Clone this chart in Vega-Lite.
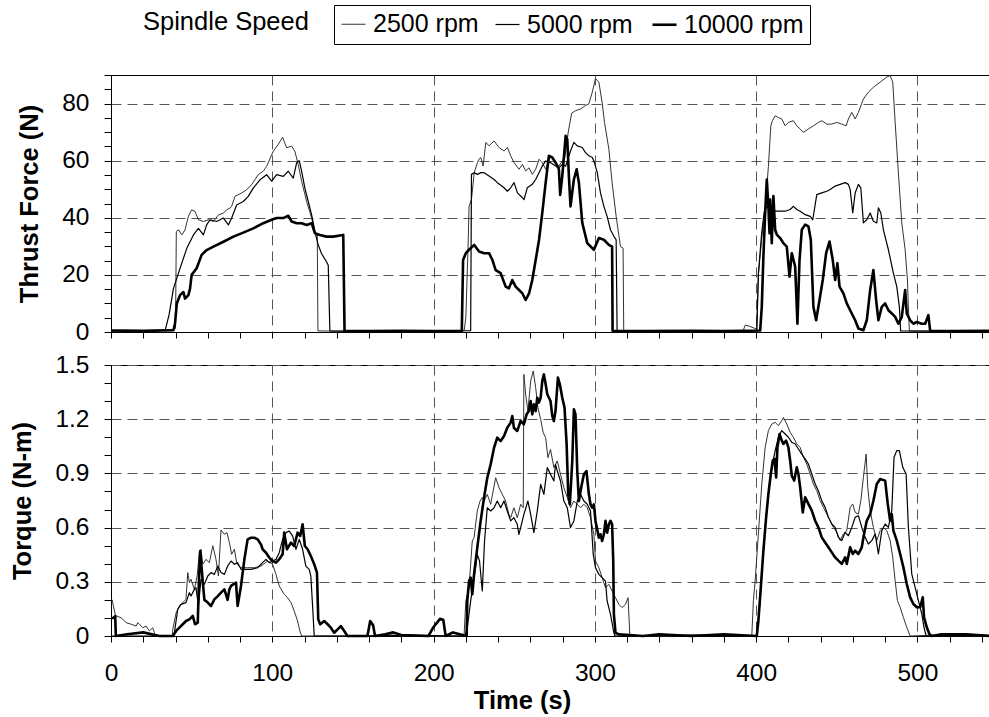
{
"$schema":"https://vega.github.io/schema/vega-lite/v6.json",
"padding":{"left":10,"top":4,"right":0,"bottom":0},
"bounds":"flush",
"spacing":33,
"title":{"text":"Spindle Speed","anchor":"start","frame":"group","dx":32,"dy":35,"fontSize":25.5,"fontWeight":"normal","color":"black","font":"Liberation Sans"},
"config":{
 "font":"Liberation Sans",
 "view":{"stroke":"black","strokeWidth":1},
 "axis":{"domainColor":"black","domainWidth":1,"tickColor":"black","tickWidth":1,"labelColor":"black","labelFontSize":24.5,"labelFont":"Liberation Sans","titleFont":"Liberation Sans","titleFontSize":25.5,"titleFontWeight":"bold","titleColor":"black","gridColor":"#555","gridDash":[10,6],"gridWidth":1,"labelOverlap":false,"labelFlush":false}
},
"datasets":{
"thrust":[
{"t":0,"v":0.5,"s":"2500 rpm"},{"t":10,"v":0.6,"s":"2500 rpm"},{"t":20,"v":0.5,"s":"2500 rpm"},{"t":30,"v":0.7,"s":"2500 rpm"},{"t":38,"v":0.9,"s":"2500 rpm"},{"t":40,"v":1.2,"s":"2500 rpm"},{"t":40.5,"v":35.2,"s":"2500 rpm"},{"t":41.8,"v":35.8,"s":"2500 rpm"},{"t":43.9,"v":34,"s":"2500 rpm"},{"t":45.9,"v":35.8,"s":"2500 rpm"},{"t":48,"v":40.5,"s":"2500 rpm"},{"t":50,"v":42.8,"s":"2500 rpm"},{"t":52.1,"v":42.2,"s":"2500 rpm"},{"t":54.2,"v":39.3,"s":"2500 rpm"},{"t":57.3,"v":38.7,"s":"2500 rpm"},{"t":60.4,"v":39.3,"s":"2500 rpm"},{"t":63.5,"v":38.7,"s":"2500 rpm"},{"t":66.6,"v":41,"s":"2500 rpm"},{"t":69.7,"v":41.6,"s":"2500 rpm"},{"t":71.7,"v":42.8,"s":"2500 rpm"},{"t":73.8,"v":43.4,"s":"2500 rpm"},{"t":74.8,"v":44,"s":"2500 rpm"},{"t":76.9,"v":47.5,"s":"2500 rpm"},{"t":81,"v":48.7,"s":"2500 rpm"},{"t":84.1,"v":49.8,"s":"2500 rpm"},{"t":87.2,"v":51.6,"s":"2500 rpm"},{"t":91.3,"v":55.1,"s":"2500 rpm"},{"t":94.4,"v":56.3,"s":"2500 rpm"},{"t":96.5,"v":58,"s":"2500 rpm"},{"t":100.6,"v":63.3,"s":"2500 rpm"},{"t":103.7,"v":65.7,"s":"2500 rpm"},{"t":106.4,"v":68.2,"s":"2500 rpm"},{"t":108.9,"v":64.5,"s":"2500 rpm"},{"t":112,"v":65.1,"s":"2500 rpm"},{"t":114,"v":63.3,"s":"2500 rpm"},{"t":116.1,"v":58.6,"s":"2500 rpm"},{"t":118.2,"v":52.8,"s":"2500 rpm"},{"t":121.3,"v":45.7,"s":"2500 rpm"},{"t":124.4,"v":39.9,"s":"2500 rpm"},{"t":126.4,"v":35.2,"s":"2500 rpm"},{"t":127.9,"v":34,"s":"2500 rpm"},{"t":128.3,"v":0.4,"s":"2500 rpm"},{"t":140,"v":0.3,"s":"2500 rpm"},{"t":160,"v":0.4,"s":"2500 rpm"},{"t":180,"v":0.3,"s":"2500 rpm"},{"t":200,"v":0.4,"s":"2500 rpm"},{"t":219,"v":0.6,"s":"2500 rpm"},{"t":220,"v":5,"s":"2500 rpm"},{"t":221.4,"v":30,"s":"2500 rpm"},{"t":222,"v":44,"s":"2500 rpm"},{"t":223.5,"v":46.4,"s":"2500 rpm"},{"t":225.2,"v":55.8,"s":"2500 rpm"},{"t":227.2,"v":59.3,"s":"2500 rpm"},{"t":228.2,"v":60.5,"s":"2500 rpm"},{"t":229.3,"v":61.1,"s":"2500 rpm"},{"t":230.7,"v":58.1,"s":"2500 rpm"},{"t":232.4,"v":66.4,"s":"2500 rpm"},{"t":234.4,"v":65.2,"s":"2500 rpm"},{"t":237.5,"v":66.9,"s":"2500 rpm"},{"t":240.6,"v":64.6,"s":"2500 rpm"},{"t":243.7,"v":63.4,"s":"2500 rpm"},{"t":245.8,"v":64.6,"s":"2500 rpm"},{"t":247.8,"v":61.7,"s":"2500 rpm"},{"t":249.9,"v":59.3,"s":"2500 rpm"},{"t":253,"v":57,"s":"2500 rpm"},{"t":255.1,"v":58.7,"s":"2500 rpm"},{"t":257.1,"v":56.4,"s":"2500 rpm"},{"t":259.2,"v":57.5,"s":"2500 rpm"},{"t":261.2,"v":55.2,"s":"2500 rpm"},{"t":263.3,"v":57,"s":"2500 rpm"},{"t":265.4,"v":60.5,"s":"2500 rpm"},{"t":267.4,"v":59.3,"s":"2500 rpm"},{"t":269.5,"v":57,"s":"2500 rpm"},{"t":272.6,"v":61.7,"s":"2500 rpm"},{"t":275.7,"v":59.3,"s":"2500 rpm"},{"t":277.7,"v":58.1,"s":"2500 rpm"},{"t":279.8,"v":59.9,"s":"2500 rpm"},{"t":281.4,"v":61.2,"s":"2500 rpm"},{"t":283.5,"v":70,"s":"2500 rpm"},{"t":285.6,"v":76.6,"s":"2500 rpm"},{"t":288,"v":77.5,"s":"2500 rpm"},{"t":291.1,"v":78.1,"s":"2500 rpm"},{"t":294.2,"v":79.3,"s":"2500 rpm"},{"t":296.3,"v":79.9,"s":"2500 rpm"},{"t":298.4,"v":84,"s":"2500 rpm"},{"t":300.4,"v":88.7,"s":"2500 rpm"},{"t":302.5,"v":87.5,"s":"2500 rpm"},{"t":304.5,"v":80.4,"s":"2500 rpm"},{"t":306,"v":73.4,"s":"2500 rpm"},{"t":308.7,"v":64,"s":"2500 rpm"},{"t":310.7,"v":52.3,"s":"2500 rpm"},{"t":313.2,"v":40.5,"s":"2500 rpm"},{"t":315.9,"v":29.9,"s":"2500 rpm"},{"t":317.5,"v":29.4,"s":"2500 rpm"},{"t":317.9,"v":0.4,"s":"2500 rpm"},{"t":330,"v":0.3,"s":"2500 rpm"},{"t":350,"v":0.4,"s":"2500 rpm"},{"t":370,"v":0.3,"s":"2500 rpm"},{"t":385,"v":0.4,"s":"2500 rpm"},{"t":392,"v":0.5,"s":"2500 rpm"},{"t":393.2,"v":2.4,"s":"2500 rpm"},{"t":396,"v":2,"s":"2500 rpm"},{"t":399.4,"v":1.2,"s":"2500 rpm"},{"t":400.4,"v":1,"s":"2500 rpm"},{"t":401.4,"v":20,"s":"2500 rpm"},{"t":403.5,"v":33,"s":"2500 rpm"},{"t":405.6,"v":43,"s":"2500 rpm"},{"t":407.6,"v":58,"s":"2500 rpm"},{"t":409.1,"v":72.2,"s":"2500 rpm"},{"t":410.1,"v":74,"s":"2500 rpm"},{"t":411.8,"v":75.7,"s":"2500 rpm"},{"t":413.8,"v":75.1,"s":"2500 rpm"},{"t":415.9,"v":74.6,"s":"2500 rpm"},{"t":418,"v":72.2,"s":"2500 rpm"},{"t":420,"v":73.4,"s":"2500 rpm"},{"t":423.1,"v":74,"s":"2500 rpm"},{"t":425.2,"v":72.2,"s":"2500 rpm"},{"t":427.3,"v":71.1,"s":"2500 rpm"},{"t":429.3,"v":69.9,"s":"2500 rpm"},{"t":432.4,"v":71.1,"s":"2500 rpm"},{"t":435.5,"v":72.2,"s":"2500 rpm"},{"t":438.6,"v":73.4,"s":"2500 rpm"},{"t":440.7,"v":74,"s":"2500 rpm"},{"t":443.8,"v":72.8,"s":"2500 rpm"},{"t":446.9,"v":72.8,"s":"2500 rpm"},{"t":450,"v":73.4,"s":"2500 rpm"},{"t":453.1,"v":72.8,"s":"2500 rpm"},{"t":455.8,"v":72.2,"s":"2500 rpm"},{"t":457.2,"v":74.6,"s":"2500 rpm"},{"t":459.3,"v":76.9,"s":"2500 rpm"},{"t":461.4,"v":74.6,"s":"2500 rpm"},{"t":463.4,"v":76.9,"s":"2500 rpm"},{"t":466.5,"v":81.6,"s":"2500 rpm"},{"t":469.6,"v":84,"s":"2500 rpm"},{"t":472.7,"v":85.7,"s":"2500 rpm"},{"t":476.9,"v":87.5,"s":"2500 rpm"},{"t":481,"v":89.3,"s":"2500 rpm"},{"t":483.1,"v":89.8,"s":"2500 rpm"},{"t":484.7,"v":87.5,"s":"2500 rpm"},{"t":486.2,"v":73.4,"s":"2500 rpm"},{"t":488.2,"v":55.8,"s":"2500 rpm"},{"t":490.3,"v":38.2,"s":"2500 rpm"},{"t":492.4,"v":28.8,"s":"2500 rpm"},{"t":493.8,"v":18.2,"s":"2500 rpm"},{"t":494.4,"v":8.8,"s":"2500 rpm"},{"t":495,"v":0.4,"s":"2500 rpm"},{"t":510,"v":0.3,"s":"2500 rpm"},{"t":525,"v":0.4,"s":"2500 rpm"},{"t":545,"v":0.3,"s":"2500 rpm"},
{"t":0,"v":0.4,"s":"5000 rpm"},{"t":15,"v":0.5,"s":"5000 rpm"},{"t":30,"v":0.5,"s":"5000 rpm"},{"t":33.7,"v":0.8,"s":"5000 rpm"},{"t":36,"v":6,"s":"5000 rpm"},{"t":38.7,"v":15.2,"s":"5000 rpm"},{"t":42.8,"v":22.3,"s":"5000 rpm"},{"t":47,"v":29.3,"s":"5000 rpm"},{"t":51.1,"v":34,"s":"5000 rpm"},{"t":54.2,"v":36.3,"s":"5000 rpm"},{"t":57.3,"v":34,"s":"5000 rpm"},{"t":59.3,"v":37.5,"s":"5000 rpm"},{"t":61.4,"v":39.3,"s":"5000 rpm"},{"t":65.5,"v":38.7,"s":"5000 rpm"},{"t":69.7,"v":39.9,"s":"5000 rpm"},{"t":72.8,"v":37.5,"s":"5000 rpm"},{"t":74.8,"v":39.9,"s":"5000 rpm"},{"t":77.9,"v":44.5,"s":"5000 rpm"},{"t":82,"v":45.7,"s":"5000 rpm"},{"t":85.1,"v":47.5,"s":"5000 rpm"},{"t":88.2,"v":50.4,"s":"5000 rpm"},{"t":92.4,"v":53.3,"s":"5000 rpm"},{"t":96.5,"v":55.1,"s":"5000 rpm"},{"t":99.6,"v":52.8,"s":"5000 rpm"},{"t":102.7,"v":55.1,"s":"5000 rpm"},{"t":106.8,"v":54.5,"s":"5000 rpm"},{"t":109.9,"v":56.3,"s":"5000 rpm"},{"t":113,"v":53.9,"s":"5000 rpm"},{"t":115.1,"v":59.2,"s":"5000 rpm"},{"t":116.7,"v":60,"s":"5000 rpm"},{"t":118.2,"v":56.3,"s":"5000 rpm"},{"t":120.2,"v":50.4,"s":"5000 rpm"},{"t":122.3,"v":45.7,"s":"5000 rpm"},{"t":124.4,"v":41,"s":"5000 rpm"},{"t":126.4,"v":35.2,"s":"5000 rpm"},{"t":128.5,"v":30.5,"s":"5000 rpm"},{"t":130.5,"v":27.5,"s":"5000 rpm"},{"t":133.6,"v":24.6,"s":"5000 rpm"},{"t":134.7,"v":23.4,"s":"5000 rpm"},{"t":135.7,"v":0.4,"s":"5000 rpm"},{"t":150,"v":0.3,"s":"5000 rpm"},{"t":170,"v":0.4,"s":"5000 rpm"},{"t":190,"v":0.3,"s":"5000 rpm"},{"t":210,"v":0.4,"s":"5000 rpm"},{"t":223,"v":0.5,"s":"5000 rpm"},{"t":223.5,"v":55.2,"s":"5000 rpm"},{"t":225.2,"v":55.8,"s":"5000 rpm"},{"t":227.2,"v":55.2,"s":"5000 rpm"},{"t":229.3,"v":55.8,"s":"5000 rpm"},{"t":231.3,"v":55.8,"s":"5000 rpm"},{"t":234.4,"v":54.6,"s":"5000 rpm"},{"t":237.5,"v":53.4,"s":"5000 rpm"},{"t":239.6,"v":52.3,"s":"5000 rpm"},{"t":243.7,"v":50.5,"s":"5000 rpm"},{"t":245.8,"v":49.3,"s":"5000 rpm"},{"t":247.8,"v":50.5,"s":"5000 rpm"},{"t":249.9,"v":52.3,"s":"5000 rpm"},{"t":252,"v":48.7,"s":"5000 rpm"},{"t":255.1,"v":47,"s":"5000 rpm"},{"t":256.1,"v":46.4,"s":"5000 rpm"},{"t":258.1,"v":50.5,"s":"5000 rpm"},{"t":261.2,"v":51.7,"s":"5000 rpm"},{"t":263.3,"v":53.4,"s":"5000 rpm"},{"t":265.4,"v":55.8,"s":"5000 rpm"},{"t":267.4,"v":58.1,"s":"5000 rpm"},{"t":269.5,"v":59.9,"s":"5000 rpm"},{"t":272.6,"v":59.3,"s":"5000 rpm"},{"t":275.7,"v":58.1,"s":"5000 rpm"},{"t":277.7,"v":57.5,"s":"5000 rpm"},{"t":279.8,"v":58.7,"s":"5000 rpm"},{"t":281.9,"v":58.1,"s":"5000 rpm"},{"t":284.9,"v":63.4,"s":"5000 rpm"},{"t":287,"v":66.4,"s":"5000 rpm"},{"t":289.1,"v":65.2,"s":"5000 rpm"},{"t":292.2,"v":64.6,"s":"5000 rpm"},{"t":294.2,"v":62.8,"s":"5000 rpm"},{"t":296.3,"v":61.7,"s":"5000 rpm"},{"t":298.4,"v":61.1,"s":"5000 rpm"},{"t":299.4,"v":59.9,"s":"5000 rpm"},{"t":301.5,"v":55.8,"s":"5000 rpm"},{"t":303.5,"v":48.7,"s":"5000 rpm"},{"t":305.6,"v":44,"s":"5000 rpm"},{"t":307.6,"v":40.5,"s":"5000 rpm"},{"t":309.7,"v":35.8,"s":"5000 rpm"},{"t":311.8,"v":33.5,"s":"5000 rpm"},{"t":313.2,"v":32.3,"s":"5000 rpm"},{"t":313.8,"v":0.4,"s":"5000 rpm"},{"t":330,"v":0.3,"s":"5000 rpm"},{"t":350,"v":0.4,"s":"5000 rpm"},{"t":370,"v":0.3,"s":"5000 rpm"},{"t":390,"v":0.4,"s":"5000 rpm"},{"t":399,"v":0.5,"s":"5000 rpm"},{"t":400.4,"v":0.6,"s":"5000 rpm"},{"t":401.4,"v":20.6,"s":"5000 rpm"},{"t":403.5,"v":35,"s":"5000 rpm"},{"t":405,"v":42,"s":"5000 rpm"},{"t":406.6,"v":44,"s":"5000 rpm"},{"t":408.7,"v":42.9,"s":"5000 rpm"},{"t":411.8,"v":42.3,"s":"5000 rpm"},{"t":414.9,"v":42.3,"s":"5000 rpm"},{"t":418,"v":42.3,"s":"5000 rpm"},{"t":421.1,"v":42.9,"s":"5000 rpm"},{"t":423.1,"v":44,"s":"5000 rpm"},{"t":425.2,"v":42.9,"s":"5000 rpm"},{"t":427.3,"v":42.3,"s":"5000 rpm"},{"t":430.4,"v":41.1,"s":"5000 rpm"},{"t":433.5,"v":40.5,"s":"5000 rpm"},{"t":435.1,"v":39.3,"s":"5000 rpm"},{"t":437.6,"v":48.1,"s":"5000 rpm"},{"t":440.7,"v":48.7,"s":"5000 rpm"},{"t":443.8,"v":49.3,"s":"5000 rpm"},{"t":445.9,"v":49.9,"s":"5000 rpm"},{"t":449,"v":51.1,"s":"5000 rpm"},{"t":452.1,"v":51.7,"s":"5000 rpm"},{"t":455.2,"v":52.3,"s":"5000 rpm"},{"t":457.2,"v":51.7,"s":"5000 rpm"},{"t":458.3,"v":49.9,"s":"5000 rpm"},{"t":459.9,"v":41.7,"s":"5000 rpm"},{"t":461.4,"v":48.7,"s":"5000 rpm"},{"t":463.4,"v":51.7,"s":"5000 rpm"},{"t":464.9,"v":50.5,"s":"5000 rpm"},{"t":466.5,"v":38.2,"s":"5000 rpm"},{"t":468.6,"v":39.3,"s":"5000 rpm"},{"t":470.7,"v":41.7,"s":"5000 rpm"},{"t":472.7,"v":38.8,"s":"5000 rpm"},{"t":474.8,"v":38.2,"s":"5000 rpm"},{"t":475.8,"v":43.5,"s":"5000 rpm"},{"t":477.3,"v":41.7,"s":"5000 rpm"},{"t":478.9,"v":35.8,"s":"5000 rpm"},{"t":482,"v":28.8,"s":"5000 rpm"},{"t":485.1,"v":20.6,"s":"5000 rpm"},{"t":487.2,"v":15.9,"s":"5000 rpm"},{"t":488.8,"v":8.8,"s":"5000 rpm"},{"t":489.6,"v":0.4,"s":"5000 rpm"},{"t":510,"v":0.3,"s":"5000 rpm"},{"t":545,"v":0.4,"s":"5000 rpm"},
{"t":0,"v":0.5,"s":"10000 rpm"},{"t":20,"v":0.4,"s":"10000 rpm"},{"t":38.7,"v":0.6,"s":"10000 rpm"},{"t":39.7,"v":3,"s":"10000 rpm"},{"t":40.8,"v":10,"s":"10000 rpm"},{"t":42.8,"v":12.9,"s":"10000 rpm"},{"t":44.9,"v":14,"s":"10000 rpm"},{"t":45.9,"v":11.7,"s":"10000 rpm"},{"t":48,"v":12.9,"s":"10000 rpm"},{"t":49,"v":15.2,"s":"10000 rpm"},{"t":50,"v":20,"s":"10000 rpm"},{"t":53.1,"v":22.3,"s":"10000 rpm"},{"t":56.2,"v":27,"s":"10000 rpm"},{"t":59.3,"v":28.7,"s":"10000 rpm"},{"t":63.5,"v":29.9,"s":"10000 rpm"},{"t":69.7,"v":31.6,"s":"10000 rpm"},{"t":75.9,"v":33.4,"s":"10000 rpm"},{"t":82,"v":34.8,"s":"10000 rpm"},{"t":88.2,"v":36.3,"s":"10000 rpm"},{"t":94.4,"v":38.1,"s":"10000 rpm"},{"t":99.6,"v":39.3,"s":"10000 rpm"},{"t":102.7,"v":39.9,"s":"10000 rpm"},{"t":106.8,"v":39.9,"s":"10000 rpm"},{"t":109.9,"v":40.7,"s":"10000 rpm"},{"t":112,"v":38.7,"s":"10000 rpm"},{"t":115.1,"v":38.1,"s":"10000 rpm"},{"t":118.2,"v":38.1,"s":"10000 rpm"},{"t":121.3,"v":37.5,"s":"10000 rpm"},{"t":124.4,"v":38.1,"s":"10000 rpm"},{"t":126.4,"v":34.6,"s":"10000 rpm"},{"t":129.5,"v":34,"s":"10000 rpm"},{"t":133.6,"v":33.4,"s":"10000 rpm"},{"t":137.8,"v":33.4,"s":"10000 rpm"},{"t":141.9,"v":33.8,"s":"10000 rpm"},{"t":144,"v":34,"s":"10000 rpm"},{"t":144.8,"v":0.4,"s":"10000 rpm"},{"t":160,"v":0.3,"s":"10000 rpm"},{"t":180,"v":0.4,"s":"10000 rpm"},{"t":200,"v":0.3,"s":"10000 rpm"},{"t":217.5,"v":0.4,"s":"10000 rpm"},{"t":218.3,"v":25.2,"s":"10000 rpm"},{"t":220,"v":27.6,"s":"10000 rpm"},{"t":222,"v":28.8,"s":"10000 rpm"},{"t":225.2,"v":30.5,"s":"10000 rpm"},{"t":228.2,"v":28.2,"s":"10000 rpm"},{"t":231.3,"v":27.6,"s":"10000 rpm"},{"t":234.4,"v":27.6,"s":"10000 rpm"},{"t":236.5,"v":25.2,"s":"10000 rpm"},{"t":238.5,"v":21.7,"s":"10000 rpm"},{"t":241.6,"v":20.6,"s":"10000 rpm"},{"t":244.7,"v":15.9,"s":"10000 rpm"},{"t":246.7,"v":15.3,"s":"10000 rpm"},{"t":248.8,"v":18.2,"s":"10000 rpm"},{"t":250.9,"v":15.9,"s":"10000 rpm"},{"t":253,"v":14.7,"s":"10000 rpm"},{"t":255.1,"v":13.5,"s":"10000 rpm"},{"t":257.1,"v":11.2,"s":"10000 rpm"},{"t":259.2,"v":13.5,"s":"10000 rpm"},{"t":261.2,"v":18.2,"s":"10000 rpm"},{"t":263.3,"v":25.2,"s":"10000 rpm"},{"t":265.4,"v":32.3,"s":"10000 rpm"},{"t":267.4,"v":41.7,"s":"10000 rpm"},{"t":269.5,"v":52.3,"s":"10000 rpm"},{"t":271.5,"v":61.7,"s":"10000 rpm"},{"t":273.6,"v":61.1,"s":"10000 rpm"},{"t":275.7,"v":59.3,"s":"10000 rpm"},{"t":277.7,"v":57,"s":"10000 rpm"},{"t":278.5,"v":48,"s":"10000 rpm"},{"t":279.8,"v":54.6,"s":"10000 rpm"},{"t":281.9,"v":68.7,"s":"10000 rpm"},{"t":282.9,"v":67.5,"s":"10000 rpm"},{"t":283.9,"v":54.6,"s":"10000 rpm"},{"t":284.9,"v":44,"s":"10000 rpm"},{"t":287,"v":53.4,"s":"10000 rpm"},{"t":288.7,"v":57,"s":"10000 rpm"},{"t":290.1,"v":52.3,"s":"10000 rpm"},{"t":292.2,"v":38.2,"s":"10000 rpm"},{"t":295.3,"v":31.1,"s":"10000 rpm"},{"t":299.4,"v":28.8,"s":"10000 rpm"},{"t":302.5,"v":32.9,"s":"10000 rpm"},{"t":305.6,"v":32.3,"s":"10000 rpm"},{"t":308.7,"v":30.5,"s":"10000 rpm"},{"t":310.7,"v":29.9,"s":"10000 rpm"},{"t":311,"v":0.4,"s":"10000 rpm"},{"t":330,"v":0.3,"s":"10000 rpm"},{"t":360,"v":0.4,"s":"10000 rpm"},{"t":380,"v":0.3,"s":"10000 rpm"},{"t":402.5,"v":0.5,"s":"10000 rpm"},{"t":403.5,"v":8.8,"s":"10000 rpm"},{"t":404.5,"v":26.4,"s":"10000 rpm"},{"t":405.6,"v":41.7,"s":"10000 rpm"},{"t":406.6,"v":53.4,"s":"10000 rpm"},{"t":407.6,"v":44,"s":"10000 rpm"},{"t":408.3,"v":34.6,"s":"10000 rpm"},{"t":408.7,"v":46.4,"s":"10000 rpm"},{"t":409.7,"v":31.1,"s":"10000 rpm"},{"t":410.7,"v":47.6,"s":"10000 rpm"},{"t":411.8,"v":35.8,"s":"10000 rpm"},{"t":412.8,"v":34.1,"s":"10000 rpm"},{"t":414.9,"v":32.9,"s":"10000 rpm"},{"t":416.9,"v":31.1,"s":"10000 rpm"},{"t":419,"v":29.9,"s":"10000 rpm"},{"t":420.7,"v":19.4,"s":"10000 rpm"},{"t":422.1,"v":27.6,"s":"10000 rpm"},{"t":424.2,"v":22.9,"s":"10000 rpm"},{"t":425.6,"v":2.9,"s":"10000 rpm"},{"t":426.9,"v":25.2,"s":"10000 rpm"},{"t":428.3,"v":35.8,"s":"10000 rpm"},{"t":430.4,"v":37.6,"s":"10000 rpm"},{"t":432.4,"v":37,"s":"10000 rpm"},{"t":433.9,"v":32.3,"s":"10000 rpm"},{"t":435.5,"v":8.8,"s":"10000 rpm"},{"t":437.2,"v":4.1,"s":"10000 rpm"},{"t":439.3,"v":11.2,"s":"10000 rpm"},{"t":441.3,"v":18.2,"s":"10000 rpm"},{"t":443.4,"v":27.6,"s":"10000 rpm"},{"t":445.5,"v":31.7,"s":"10000 rpm"},{"t":447.5,"v":25.2,"s":"10000 rpm"},{"t":449,"v":18.2,"s":"10000 rpm"},{"t":450.4,"v":24.1,"s":"10000 rpm"},{"t":451.7,"v":15.9,"s":"10000 rpm"},{"t":454.1,"v":13.5,"s":"10000 rpm"},{"t":456.2,"v":10,"s":"10000 rpm"},{"t":458.3,"v":7.6,"s":"10000 rpm"},{"t":461.4,"v":4.1,"s":"10000 rpm"},{"t":463.4,"v":1.2,"s":"10000 rpm"},{"t":466.5,"v":0.6,"s":"10000 rpm"},{"t":468.6,"v":4.1,"s":"10000 rpm"},{"t":470.7,"v":14.7,"s":"10000 rpm"},{"t":472.7,"v":21.7,"s":"10000 rpm"},{"t":474.4,"v":11.2,"s":"10000 rpm"},{"t":475.8,"v":4.1,"s":"10000 rpm"},{"t":477.9,"v":8.8,"s":"10000 rpm"},{"t":480,"v":10,"s":"10000 rpm"},{"t":482,"v":7.6,"s":"10000 rpm"},{"t":484.1,"v":6.5,"s":"10000 rpm"},{"t":486.2,"v":5.3,"s":"10000 rpm"},{"t":488.2,"v":2.9,"s":"10000 rpm"},{"t":490.3,"v":5.3,"s":"10000 rpm"},{"t":492.4,"v":14.7,"s":"10000 rpm"},{"t":493.4,"v":6.5,"s":"10000 rpm"},{"t":495.5,"v":4.1,"s":"10000 rpm"},{"t":497.5,"v":2.9,"s":"10000 rpm"},{"t":499.6,"v":3.5,"s":"10000 rpm"},{"t":502.7,"v":2.9,"s":"10000 rpm"},{"t":504.8,"v":2.9,"s":"10000 rpm"},{"t":506.8,"v":5.9,"s":"10000 rpm"},{"t":507.9,"v":0.4,"s":"10000 rpm"},{"t":520,"v":0.3,"s":"10000 rpm"},{"t":545,"v":0.4,"s":"10000 rpm"}
],
"torque":[
{"t":0,"v":0.2,"s":"2500 rpm"},{"t":0.7,"v":0.2,"s":"2500 rpm"},{"t":2.6,"v":0.12,"s":"2500 rpm"},{"t":3.2,"v":0.111,"s":"2500 rpm"},{"t":6.3,"v":0.101,"s":"2500 rpm"},{"t":9.4,"v":0.074,"s":"2500 rpm"},{"t":12.5,"v":0.065,"s":"2500 rpm"},{"t":15.6,"v":0.055,"s":"2500 rpm"},{"t":16.6,"v":0.074,"s":"2500 rpm"},{"t":19.7,"v":0.046,"s":"2500 rpm"},{"t":21.8,"v":0.055,"s":"2500 rpm"},{"t":23.8,"v":0.028,"s":"2500 rpm"},{"t":25.9,"v":0.046,"s":"2500 rpm"},{"t":26.9,"v":0.018,"s":"2500 rpm"},{"t":27.6,"v":0,"s":"2500 rpm"},{"t":38,"v":0,"s":"2500 rpm"},{"t":38.3,"v":0.037,"s":"2500 rpm"},{"t":40.4,"v":0.129,"s":"2500 rpm"},{"t":42.4,"v":0.166,"s":"2500 rpm"},{"t":44.5,"v":0.185,"s":"2500 rpm"},{"t":46.5,"v":0.203,"s":"2500 rpm"},{"t":47.6,"v":0.351,"s":"2500 rpm"},{"t":48.6,"v":0.295,"s":"2500 rpm"},{"t":49.6,"v":0.314,"s":"2500 rpm"},{"t":51.7,"v":0.258,"s":"2500 rpm"},{"t":53.4,"v":0.332,"s":"2500 rpm"},{"t":54.8,"v":0.461,"s":"2500 rpm"},{"t":55.8,"v":0.48,"s":"2500 rpm"},{"t":56.9,"v":0.397,"s":"2500 rpm"},{"t":58.9,"v":0.424,"s":"2500 rpm"},{"t":61,"v":0.406,"s":"2500 rpm"},{"t":63.1,"v":0.5,"s":"2500 rpm"},{"t":65.1,"v":0.424,"s":"2500 rpm"},{"t":66.6,"v":0.332,"s":"2500 rpm"},{"t":68.2,"v":0.587,"s":"2500 rpm"},{"t":70.3,"v":0.563,"s":"2500 rpm"},{"t":71.9,"v":0.572,"s":"2500 rpm"},{"t":73.4,"v":0.517,"s":"2500 rpm"},{"t":74.8,"v":0.452,"s":"2500 rpm"},{"t":76.5,"v":0.48,"s":"2500 rpm"},{"t":78.1,"v":0.397,"s":"2500 rpm"},{"t":80.6,"v":0.378,"s":"2500 rpm"},{"t":84.7,"v":0.378,"s":"2500 rpm"},{"t":88.9,"v":0.378,"s":"2500 rpm"},{"t":93,"v":0.387,"s":"2500 rpm"},{"t":97.1,"v":0.415,"s":"2500 rpm"},{"t":100.2,"v":0.397,"s":"2500 rpm"},{"t":102.3,"v":0.341,"s":"2500 rpm"},{"t":104.3,"v":0.277,"s":"2500 rpm"},{"t":107.4,"v":0.231,"s":"2500 rpm"},{"t":109.5,"v":0.212,"s":"2500 rpm"},{"t":111.6,"v":0.185,"s":"2500 rpm"},{"t":113.6,"v":0.138,"s":"2500 rpm"},{"t":115.7,"v":0.083,"s":"2500 rpm"},{"t":117.1,"v":0.028,"s":"2500 rpm"},{"t":118.2,"v":0,"s":"2500 rpm"},{"t":150,"v":0,"s":"2500 rpm"},{"t":170,"v":0.005,"s":"2500 rpm"},{"t":190,"v":0,"s":"2500 rpm"},{"t":218.9,"v":0,"s":"2500 rpm"},{"t":220,"v":0.194,"s":"2500 rpm"},{"t":222,"v":0.268,"s":"2500 rpm"},{"t":224,"v":0.526,"s":"2500 rpm"},{"t":225.1,"v":0.544,"s":"2500 rpm"},{"t":227.1,"v":0.692,"s":"2500 rpm"},{"t":228.8,"v":0.747,"s":"2500 rpm"},{"t":230.2,"v":0.766,"s":"2500 rpm"},{"t":231.3,"v":0.747,"s":"2500 rpm"},{"t":233.3,"v":0.784,"s":"2500 rpm"},{"t":235.4,"v":0.729,"s":"2500 rpm"},{"t":238.5,"v":0.876,"s":"2500 rpm"},{"t":240.6,"v":0.821,"s":"2500 rpm"},{"t":242.6,"v":0.784,"s":"2500 rpm"},{"t":244.7,"v":0.747,"s":"2500 rpm"},{"t":246.7,"v":0.673,"s":"2500 rpm"},{"t":247.8,"v":0.655,"s":"2500 rpm"},{"t":249.8,"v":0.71,"s":"2500 rpm"},{"t":251.9,"v":0.655,"s":"2500 rpm"},{"t":254,"v":0.729,"s":"2500 rpm"},{"t":255.6,"v":0.71,"s":"2500 rpm"},{"t":256,"v":1.448,"s":"2500 rpm"},{"t":257.1,"v":1.338,"s":"2500 rpm"},{"t":258.5,"v":1.245,"s":"2500 rpm"},{"t":260.2,"v":1.411,"s":"2500 rpm"},{"t":261.8,"v":1.467,"s":"2500 rpm"},{"t":263.3,"v":1.375,"s":"2500 rpm"},{"t":264.7,"v":1.264,"s":"2500 rpm"},{"t":266.4,"v":1.199,"s":"2500 rpm"},{"t":268,"v":1.125,"s":"2500 rpm"},{"t":269.5,"v":1.098,"s":"2500 rpm"},{"t":270.9,"v":0.987,"s":"2500 rpm"},{"t":272.5,"v":1.033,"s":"2500 rpm"},{"t":274.6,"v":0.932,"s":"2500 rpm"},{"t":276.7,"v":0.969,"s":"2500 rpm"},{"t":278.7,"v":0.895,"s":"2500 rpm"},{"t":280.8,"v":0.821,"s":"2500 rpm"},{"t":282.9,"v":0.766,"s":"2500 rpm"},{"t":284.9,"v":0.71,"s":"2500 rpm"},{"t":287,"v":0.747,"s":"2500 rpm"},{"t":289.1,"v":0.729,"s":"2500 rpm"},{"t":291.1,"v":0.71,"s":"2500 rpm"},{"t":293.2,"v":0.729,"s":"2500 rpm"},{"t":295.3,"v":0.71,"s":"2500 rpm"},{"t":297.3,"v":0.655,"s":"2500 rpm"},{"t":299.4,"v":0.563,"s":"2500 rpm"},{"t":300.4,"v":0.415,"s":"2500 rpm"},{"t":302.5,"v":0.378,"s":"2500 rpm"},{"t":304.5,"v":0.323,"s":"2500 rpm"},{"t":306.6,"v":0.268,"s":"2500 rpm"},{"t":308.7,"v":0.286,"s":"2500 rpm"},{"t":310.7,"v":0.249,"s":"2500 rpm"},{"t":312.8,"v":0.212,"s":"2500 rpm"},{"t":314.9,"v":0.175,"s":"2500 rpm"},{"t":316.9,"v":0.157,"s":"2500 rpm"},{"t":319,"v":0.175,"s":"2500 rpm"},{"t":320.6,"v":0.212,"s":"2500 rpm"},{"t":321.7,"v":0,"s":"2500 rpm"},{"t":340,"v":0,"s":"2500 rpm"},{"t":370,"v":0.005,"s":"2500 rpm"},{"t":397.3,"v":0,"s":"2500 rpm"},{"t":398.3,"v":0.196,"s":"2500 rpm"},{"t":399.4,"v":0.306,"s":"2500 rpm"},{"t":401.4,"v":0.565,"s":"2500 rpm"},{"t":403.5,"v":0.841,"s":"2500 rpm"},{"t":405.6,"v":1.044,"s":"2500 rpm"},{"t":407.6,"v":1.137,"s":"2500 rpm"},{"t":409.7,"v":1.173,"s":"2500 rpm"},{"t":411.8,"v":1.183,"s":"2500 rpm"},{"t":413.8,"v":1.164,"s":"2500 rpm"},{"t":415.9,"v":1.192,"s":"2500 rpm"},{"t":416.9,"v":1.21,"s":"2500 rpm"},{"t":419,"v":1.173,"s":"2500 rpm"},{"t":421.1,"v":1.127,"s":"2500 rpm"},{"t":423.1,"v":1.1,"s":"2500 rpm"},{"t":425.2,"v":1.063,"s":"2500 rpm"},{"t":427.3,"v":1.044,"s":"2500 rpm"},{"t":429.3,"v":0.989,"s":"2500 rpm"},{"t":431.4,"v":0.952,"s":"2500 rpm"},{"t":433.5,"v":0.897,"s":"2500 rpm"},{"t":435.5,"v":0.841,"s":"2500 rpm"},{"t":437.6,"v":0.804,"s":"2500 rpm"},{"t":439.7,"v":0.749,"s":"2500 rpm"},{"t":441.7,"v":0.712,"s":"2500 rpm"},{"t":443.8,"v":0.675,"s":"2500 rpm"},{"t":445.9,"v":0.638,"s":"2500 rpm"},{"t":447.9,"v":0.601,"s":"2500 rpm"},{"t":450,"v":0.574,"s":"2500 rpm"},{"t":452.1,"v":0.528,"s":"2500 rpm"},{"t":454.1,"v":0.565,"s":"2500 rpm"},{"t":456.2,"v":0.583,"s":"2500 rpm"},{"t":458.3,"v":0.712,"s":"2500 rpm"},{"t":459.9,"v":0.731,"s":"2500 rpm"},{"t":461.4,"v":0.684,"s":"2500 rpm"},{"t":463.4,"v":0.675,"s":"2500 rpm"},{"t":464.9,"v":0.749,"s":"2500 rpm"},{"t":466.5,"v":0.878,"s":"2500 rpm"},{"t":468.2,"v":1.007,"s":"2500 rpm"},{"t":469.2,"v":0.823,"s":"2500 rpm"},{"t":470.7,"v":0.694,"s":"2500 rpm"},{"t":472.7,"v":0.601,"s":"2500 rpm"},{"t":474.8,"v":0.528,"s":"2500 rpm"},{"t":476.9,"v":0.583,"s":"2500 rpm"},{"t":478.9,"v":0.601,"s":"2500 rpm"},{"t":481,"v":0.583,"s":"2500 rpm"},{"t":483.1,"v":0.528,"s":"2500 rpm"},{"t":484.7,"v":0.435,"s":"2500 rpm"},{"t":486.2,"v":0.306,"s":"2500 rpm"},{"t":487.6,"v":0.196,"s":"2500 rpm"},{"t":489.3,"v":0.159,"s":"2500 rpm"},{"t":491.3,"v":0.103,"s":"2500 rpm"},{"t":493.4,"v":0.048,"s":"2500 rpm"},{"t":495.5,"v":0,"s":"2500 rpm"},{"t":510,"v":0.005,"s":"2500 rpm"},{"t":545,"v":0,"s":"2500 rpm"},
{"t":0,"v":0,"s":"5000 rpm"},{"t":39,"v":0,"s":"5000 rpm"},{"t":39.3,"v":0.018,"s":"5000 rpm"},{"t":41.4,"v":0.148,"s":"5000 rpm"},{"t":43.4,"v":0.175,"s":"5000 rpm"},{"t":46.5,"v":0.185,"s":"5000 rpm"},{"t":48.6,"v":0.24,"s":"5000 rpm"},{"t":49.6,"v":0.221,"s":"5000 rpm"},{"t":51.7,"v":0.258,"s":"5000 rpm"},{"t":52.7,"v":0.268,"s":"5000 rpm"},{"t":54.2,"v":0.166,"s":"5000 rpm"},{"t":55.8,"v":0.314,"s":"5000 rpm"},{"t":57.9,"v":0.286,"s":"5000 rpm"},{"t":60,"v":0.332,"s":"5000 rpm"},{"t":62,"v":0.351,"s":"5000 rpm"},{"t":64.1,"v":0.341,"s":"5000 rpm"},{"t":66.2,"v":0.387,"s":"5000 rpm"},{"t":68.2,"v":0.351,"s":"5000 rpm"},{"t":70.3,"v":0.341,"s":"5000 rpm"},{"t":72.3,"v":0.387,"s":"5000 rpm"},{"t":74.4,"v":0.415,"s":"5000 rpm"},{"t":76.5,"v":0.397,"s":"5000 rpm"},{"t":78.5,"v":0.406,"s":"5000 rpm"},{"t":80.6,"v":0.369,"s":"5000 rpm"},{"t":82.7,"v":0.369,"s":"5000 rpm"},{"t":86.8,"v":0.369,"s":"5000 rpm"},{"t":90.9,"v":0.378,"s":"5000 rpm"},{"t":94,"v":0.406,"s":"5000 rpm"},{"t":96.1,"v":0.424,"s":"5000 rpm"},{"t":98.1,"v":0.406,"s":"5000 rpm"},{"t":100.2,"v":0.415,"s":"5000 rpm"},{"t":102.3,"v":0.424,"s":"5000 rpm"},{"t":104.3,"v":0.461,"s":"5000 rpm"},{"t":106.4,"v":0.535,"s":"5000 rpm"},{"t":108.5,"v":0.572,"s":"5000 rpm"},{"t":110.5,"v":0.581,"s":"5000 rpm"},{"t":112.6,"v":0.554,"s":"5000 rpm"},{"t":114.7,"v":0.48,"s":"5000 rpm"},{"t":116.7,"v":0.535,"s":"5000 rpm"},{"t":118.8,"v":0.48,"s":"5000 rpm"},{"t":120.8,"v":0.387,"s":"5000 rpm"},{"t":122.9,"v":0.369,"s":"5000 rpm"},{"t":123.9,"v":0.332,"s":"5000 rpm"},{"t":125,"v":0.166,"s":"5000 rpm"},{"t":126,"v":0,"s":"5000 rpm"},{"t":160,"v":0,"s":"5000 rpm"},{"t":180,"v":0.005,"s":"5000 rpm"},{"t":219.5,"v":0,"s":"5000 rpm"},{"t":220.9,"v":0.046,"s":"5000 rpm"},{"t":223,"v":0.194,"s":"5000 rpm"},{"t":225.1,"v":0.323,"s":"5000 rpm"},{"t":227.1,"v":0.452,"s":"5000 rpm"},{"t":228.5,"v":0.415,"s":"5000 rpm"},{"t":230.2,"v":0.249,"s":"5000 rpm"},{"t":231.6,"v":0.526,"s":"5000 rpm"},{"t":233.3,"v":0.71,"s":"5000 rpm"},{"t":235.4,"v":0.692,"s":"5000 rpm"},{"t":237.5,"v":0.71,"s":"5000 rpm"},{"t":239.5,"v":0.747,"s":"5000 rpm"},{"t":241.6,"v":0.71,"s":"5000 rpm"},{"t":243.7,"v":0.747,"s":"5000 rpm"},{"t":245.7,"v":0.692,"s":"5000 rpm"},{"t":247.8,"v":0.637,"s":"5000 rpm"},{"t":249.8,"v":0.655,"s":"5000 rpm"},{"t":251.9,"v":0.618,"s":"5000 rpm"},{"t":252.9,"v":0.563,"s":"5000 rpm"},{"t":254,"v":0.6,"s":"5000 rpm"},{"t":256,"v":0.673,"s":"5000 rpm"},{"t":258.5,"v":0.747,"s":"5000 rpm"},{"t":260.2,"v":0.673,"s":"5000 rpm"},{"t":262.2,"v":0.572,"s":"5000 rpm"},{"t":264.3,"v":0.692,"s":"5000 rpm"},{"t":266.4,"v":0.839,"s":"5000 rpm"},{"t":268.4,"v":0.784,"s":"5000 rpm"},{"t":270.5,"v":0.932,"s":"5000 rpm"},{"t":272.5,"v":0.895,"s":"5000 rpm"},{"t":274.6,"v":0.858,"s":"5000 rpm"},{"t":275.6,"v":0.95,"s":"5000 rpm"},{"t":276.7,"v":0.913,"s":"5000 rpm"},{"t":278.7,"v":0.858,"s":"5000 rpm"},{"t":280.8,"v":0.747,"s":"5000 rpm"},{"t":282.9,"v":0.71,"s":"5000 rpm"},{"t":284.9,"v":0.6,"s":"5000 rpm"},{"t":287,"v":0.637,"s":"5000 rpm"},{"t":289.1,"v":0.747,"s":"5000 rpm"},{"t":291.1,"v":0.784,"s":"5000 rpm"},{"t":293.2,"v":0.747,"s":"5000 rpm"},{"t":295.3,"v":0.729,"s":"5000 rpm"},{"t":297.3,"v":0.692,"s":"5000 rpm"},{"t":299,"v":0.452,"s":"5000 rpm"},{"t":300.4,"v":0.378,"s":"5000 rpm"},{"t":302.5,"v":0.341,"s":"5000 rpm"},{"t":304.5,"v":0.323,"s":"5000 rpm"},{"t":306.6,"v":0.304,"s":"5000 rpm"},{"t":307.6,"v":0.194,"s":"5000 rpm"},{"t":309.7,"v":0.12,"s":"5000 rpm"},{"t":311.8,"v":0.018,"s":"5000 rpm"},{"t":312.5,"v":0,"s":"5000 rpm"},{"t":360,"v":0.005,"s":"5000 rpm"},{"t":400.4,"v":0,"s":"5000 rpm"},{"t":402.1,"v":0.159,"s":"5000 rpm"},{"t":403.5,"v":0.343,"s":"5000 rpm"},{"t":405.6,"v":0.601,"s":"5000 rpm"},{"t":407.6,"v":0.786,"s":"5000 rpm"},{"t":409.7,"v":0.934,"s":"5000 rpm"},{"t":411.8,"v":1.026,"s":"5000 rpm"},{"t":413.8,"v":1.1,"s":"5000 rpm"},{"t":415.9,"v":1.137,"s":"5000 rpm"},{"t":418,"v":1.118,"s":"5000 rpm"},{"t":420,"v":1.1,"s":"5000 rpm"},{"t":422.1,"v":1.072,"s":"5000 rpm"},{"t":424.2,"v":1.063,"s":"5000 rpm"},{"t":426.2,"v":1.035,"s":"5000 rpm"},{"t":428.3,"v":1.007,"s":"5000 rpm"},{"t":430.4,"v":0.98,"s":"5000 rpm"},{"t":432.4,"v":0.952,"s":"5000 rpm"},{"t":434.5,"v":0.897,"s":"5000 rpm"},{"t":436.6,"v":0.841,"s":"5000 rpm"},{"t":438.6,"v":0.804,"s":"5000 rpm"},{"t":440.7,"v":0.749,"s":"5000 rpm"},{"t":442.8,"v":0.712,"s":"5000 rpm"},{"t":444.8,"v":0.657,"s":"5000 rpm"},{"t":446.9,"v":0.62,"s":"5000 rpm"},{"t":449,"v":0.601,"s":"5000 rpm"},{"t":451,"v":0.546,"s":"5000 rpm"},{"t":453.1,"v":0.528,"s":"5000 rpm"},{"t":455.2,"v":0.574,"s":"5000 rpm"},{"t":457.2,"v":0.555,"s":"5000 rpm"},{"t":459.3,"v":0.601,"s":"5000 rpm"},{"t":461.4,"v":0.657,"s":"5000 rpm"},{"t":463.4,"v":0.666,"s":"5000 rpm"},{"t":465.5,"v":0.601,"s":"5000 rpm"},{"t":467.6,"v":0.546,"s":"5000 rpm"},{"t":469.6,"v":0.509,"s":"5000 rpm"},{"t":471.7,"v":0.528,"s":"5000 rpm"},{"t":473.8,"v":0.565,"s":"5000 rpm"},{"t":475.8,"v":0.454,"s":"5000 rpm"},{"t":477.9,"v":0.583,"s":"5000 rpm"},{"t":480,"v":0.62,"s":"5000 rpm"},{"t":482,"v":0.601,"s":"5000 rpm"},{"t":484.1,"v":0.694,"s":"5000 rpm"},{"t":485.5,"v":0.989,"s":"5000 rpm"},{"t":487.2,"v":1.026,"s":"5000 rpm"},{"t":488.8,"v":1.026,"s":"5000 rpm"},{"t":490.9,"v":0.934,"s":"5000 rpm"},{"t":493,"v":0.897,"s":"5000 rpm"},{"t":494.4,"v":0.601,"s":"5000 rpm"},{"t":496.5,"v":0.343,"s":"5000 rpm"},{"t":498.6,"v":0.269,"s":"5000 rpm"},{"t":500.6,"v":0.196,"s":"5000 rpm"},{"t":502.7,"v":0.122,"s":"5000 rpm"},{"t":504.1,"v":0.048,"s":"5000 rpm"},{"t":505.4,"v":0,"s":"5000 rpm"},{"t":520,"v":0.005,"s":"5000 rpm"},{"t":545,"v":0,"s":"5000 rpm"},
{"t":0,"v":0.1,"s":"10000 rpm"},{"t":1.5,"v":0.1,"s":"10000 rpm"},{"t":2.6,"v":0.11,"s":"10000 rpm"},{"t":3,"v":0,"s":"10000 rpm"},{"t":10,"v":0.01,"s":"10000 rpm"},{"t":20,"v":0.02,"s":"10000 rpm"},{"t":30,"v":0,"s":"10000 rpm"},{"t":38.3,"v":0,"s":"10000 rpm"},{"t":40.4,"v":0.028,"s":"10000 rpm"},{"t":42.4,"v":0.046,"s":"10000 rpm"},{"t":44.5,"v":0.065,"s":"10000 rpm"},{"t":46.5,"v":0.083,"s":"10000 rpm"},{"t":48.6,"v":0.092,"s":"10000 rpm"},{"t":50.7,"v":0.111,"s":"10000 rpm"},{"t":52.1,"v":0.065,"s":"10000 rpm"},{"t":53.8,"v":0.074,"s":"10000 rpm"},{"t":54.5,"v":0.3,"s":"10000 rpm"},{"t":55.3,"v":0.47,"s":"10000 rpm"},{"t":56.9,"v":0.3,"s":"10000 rpm"},{"t":57.9,"v":0.2,"s":"10000 rpm"},{"t":60,"v":0.185,"s":"10000 rpm"},{"t":62,"v":0.166,"s":"10000 rpm"},{"t":64.1,"v":0.203,"s":"10000 rpm"},{"t":66.2,"v":0.221,"s":"10000 rpm"},{"t":68.2,"v":0.24,"s":"10000 rpm"},{"t":70.3,"v":0.258,"s":"10000 rpm"},{"t":72.3,"v":0.2,"s":"10000 rpm"},{"t":73.4,"v":0.258,"s":"10000 rpm"},{"t":74.4,"v":0.277,"s":"10000 rpm"},{"t":77.5,"v":0.295,"s":"10000 rpm"},{"t":78.5,"v":0.166,"s":"10000 rpm"},{"t":80.6,"v":0.277,"s":"10000 rpm"},{"t":82.7,"v":0.424,"s":"10000 rpm"},{"t":84.7,"v":0.535,"s":"10000 rpm"},{"t":86.8,"v":0.544,"s":"10000 rpm"},{"t":88.9,"v":0.544,"s":"10000 rpm"},{"t":90.9,"v":0.535,"s":"10000 rpm"},{"t":93,"v":0.507,"s":"10000 rpm"},{"t":94,"v":0.48,"s":"10000 rpm"},{"t":96.1,"v":0.461,"s":"10000 rpm"},{"t":98.1,"v":0.434,"s":"10000 rpm"},{"t":100.2,"v":0.415,"s":"10000 rpm"},{"t":102.3,"v":0.406,"s":"10000 rpm"},{"t":104.3,"v":0.424,"s":"10000 rpm"},{"t":106.4,"v":0.452,"s":"10000 rpm"},{"t":107.4,"v":0.572,"s":"10000 rpm"},{"t":109.1,"v":0.48,"s":"10000 rpm"},{"t":111.6,"v":0.517,"s":"10000 rpm"},{"t":113.6,"v":0.498,"s":"10000 rpm"},{"t":115.7,"v":0.572,"s":"10000 rpm"},{"t":117.3,"v":0.554,"s":"10000 rpm"},{"t":118.8,"v":0.618,"s":"10000 rpm"},{"t":120.2,"v":0.498,"s":"10000 rpm"},{"t":121.9,"v":0.48,"s":"10000 rpm"},{"t":123.9,"v":0.443,"s":"10000 rpm"},{"t":126,"v":0.397,"s":"10000 rpm"},{"t":127.7,"v":0.351,"s":"10000 rpm"},{"t":128.5,"v":0.092,"s":"10000 rpm"},{"t":129.7,"v":0.065,"s":"10000 rpm"},{"t":132.2,"v":0.083,"s":"10000 rpm"},{"t":134.3,"v":0.065,"s":"10000 rpm"},{"t":136.3,"v":0.046,"s":"10000 rpm"},{"t":138.4,"v":0.018,"s":"10000 rpm"},{"t":140.5,"v":0.037,"s":"10000 rpm"},{"t":142.5,"v":0.055,"s":"10000 rpm"},{"t":144.6,"v":0.028,"s":"10000 rpm"},{"t":146.6,"v":0,"s":"10000 rpm"},{"t":159,"v":0,"s":"10000 rpm"},{"t":160.7,"v":0.083,"s":"10000 rpm"},{"t":162.5,"v":0.06,"s":"10000 rpm"},{"t":163.7,"v":0,"s":"10000 rpm"},{"t":170,"v":0.01,"s":"10000 rpm"},{"t":175,"v":0.02,"s":"10000 rpm"},{"t":180,"v":0.005,"s":"10000 rpm"},{"t":196.8,"v":0,"s":"10000 rpm"},{"t":200,"v":0.05,"s":"10000 rpm"},{"t":204,"v":0.095,"s":"10000 rpm"},{"t":206,"v":0.09,"s":"10000 rpm"},{"t":207.5,"v":0,"s":"10000 rpm"},{"t":212,"v":0.02,"s":"10000 rpm"},{"t":220.5,"v":0,"s":"10000 rpm"},{"t":220.9,"v":0.194,"s":"10000 rpm"},{"t":222,"v":0.304,"s":"10000 rpm"},{"t":223,"v":0.323,"s":"10000 rpm"},{"t":224,"v":0.231,"s":"10000 rpm"},{"t":225.1,"v":0.341,"s":"10000 rpm"},{"t":227.1,"v":0.489,"s":"10000 rpm"},{"t":229.2,"v":0.637,"s":"10000 rpm"},{"t":231.3,"v":0.766,"s":"10000 rpm"},{"t":233.3,"v":0.876,"s":"10000 rpm"},{"t":235.4,"v":0.95,"s":"10000 rpm"},{"t":237.5,"v":1.042,"s":"10000 rpm"},{"t":239.5,"v":1.098,"s":"10000 rpm"},{"t":241.6,"v":1.079,"s":"10000 rpm"},{"t":243.7,"v":1.107,"s":"10000 rpm"},{"t":245.7,"v":1.153,"s":"10000 rpm"},{"t":247.8,"v":1.181,"s":"10000 rpm"},{"t":248.8,"v":1.218,"s":"10000 rpm"},{"t":249.8,"v":1.153,"s":"10000 rpm"},{"t":251.9,"v":1.135,"s":"10000 rpm"},{"t":254,"v":1.19,"s":"10000 rpm"},{"t":256,"v":1.172,"s":"10000 rpm"},{"t":257.7,"v":1.227,"s":"10000 rpm"},{"t":259.1,"v":1.245,"s":"10000 rpm"},{"t":260.2,"v":1.301,"s":"10000 rpm"},{"t":261.2,"v":1.227,"s":"10000 rpm"},{"t":262.2,"v":1.282,"s":"10000 rpm"},{"t":263.3,"v":1.245,"s":"10000 rpm"},{"t":264.3,"v":1.319,"s":"10000 rpm"},{"t":265.3,"v":1.292,"s":"10000 rpm"},{"t":266.4,"v":1.319,"s":"10000 rpm"},{"t":267.4,"v":1.411,"s":"10000 rpm"},{"t":268.4,"v":1.448,"s":"10000 rpm"},{"t":269.5,"v":1.393,"s":"10000 rpm"},{"t":270.5,"v":1.338,"s":"10000 rpm"},{"t":272.5,"v":1.301,"s":"10000 rpm"},{"t":273.6,"v":1.218,"s":"10000 rpm"},{"t":274.6,"v":1.19,"s":"10000 rpm"},{"t":275.6,"v":1.245,"s":"10000 rpm"},{"t":277.1,"v":1.43,"s":"10000 rpm"},{"t":278.3,"v":1.393,"s":"10000 rpm"},{"t":279.8,"v":1.319,"s":"10000 rpm"},{"t":281.2,"v":1.264,"s":"10000 rpm"},{"t":282.5,"v":1.061,"s":"10000 rpm"},{"t":283.5,"v":0.784,"s":"10000 rpm"},{"t":284.5,"v":0.729,"s":"10000 rpm"},{"t":286,"v":0.969,"s":"10000 rpm"},{"t":287,"v":1.255,"s":"10000 rpm"},{"t":288,"v":1.227,"s":"10000 rpm"},{"t":289.1,"v":0.913,"s":"10000 rpm"},{"t":290.1,"v":0.747,"s":"10000 rpm"},{"t":291.5,"v":0.821,"s":"10000 rpm"},{"t":293.2,"v":0.895,"s":"10000 rpm"},{"t":294.8,"v":0.913,"s":"10000 rpm"},{"t":296.3,"v":0.784,"s":"10000 rpm"},{"t":297.3,"v":0.729,"s":"10000 rpm"},{"t":298.3,"v":0.71,"s":"10000 rpm"},{"t":299.4,"v":0.729,"s":"10000 rpm"},{"t":300.4,"v":0.637,"s":"10000 rpm"},{"t":302.5,"v":0.544,"s":"10000 rpm"},{"t":303.5,"v":0.563,"s":"10000 rpm"},{"t":304.5,"v":0.526,"s":"10000 rpm"},{"t":305.6,"v":0.563,"s":"10000 rpm"},{"t":306.6,"v":0.637,"s":"10000 rpm"},{"t":307.6,"v":0.572,"s":"10000 rpm"},{"t":308.7,"v":0.618,"s":"10000 rpm"},{"t":309.7,"v":0.637,"s":"10000 rpm"},{"t":310.7,"v":0.618,"s":"10000 rpm"},{"t":311.4,"v":0.415,"s":"10000 rpm"},{"t":311.8,"v":0.12,"s":"10000 rpm"},{"t":312.8,"v":0.018,"s":"10000 rpm"},{"t":314.9,"v":0.009,"s":"10000 rpm"},{"t":330,"v":0,"s":"10000 rpm"},{"t":340,"v":0.01,"s":"10000 rpm"},{"t":360,"v":0,"s":"10000 rpm"},{"t":380,"v":0.01,"s":"10000 rpm"},{"t":400.4,"v":0,"s":"10000 rpm"},{"t":401.4,"v":0.085,"s":"10000 rpm"},{"t":402.9,"v":0.269,"s":"10000 rpm"},{"t":404.5,"v":0.472,"s":"10000 rpm"},{"t":406.2,"v":0.657,"s":"10000 rpm"},{"t":407.6,"v":0.786,"s":"10000 rpm"},{"t":409.1,"v":0.897,"s":"10000 rpm"},{"t":410.3,"v":0.97,"s":"10000 rpm"},{"t":411.4,"v":0.98,"s":"10000 rpm"},{"t":412.4,"v":0.878,"s":"10000 rpm"},{"t":413.2,"v":1.044,"s":"10000 rpm"},{"t":414.5,"v":1.118,"s":"10000 rpm"},{"t":415.9,"v":1.081,"s":"10000 rpm"},{"t":416.9,"v":1.063,"s":"10000 rpm"},{"t":418.6,"v":1.081,"s":"10000 rpm"},{"t":420,"v":1.044,"s":"10000 rpm"},{"t":421.1,"v":0.97,"s":"10000 rpm"},{"t":422.1,"v":0.887,"s":"10000 rpm"},{"t":423.6,"v":0.86,"s":"10000 rpm"},{"t":425.2,"v":0.934,"s":"10000 rpm"},{"t":426.2,"v":0.897,"s":"10000 rpm"},{"t":427.3,"v":0.823,"s":"10000 rpm"},{"t":428.9,"v":0.684,"s":"10000 rpm"},{"t":430.4,"v":0.768,"s":"10000 rpm"},{"t":432.4,"v":0.731,"s":"10000 rpm"},{"t":434.5,"v":0.694,"s":"10000 rpm"},{"t":436.6,"v":0.638,"s":"10000 rpm"},{"t":438.6,"v":0.601,"s":"10000 rpm"},{"t":440.7,"v":0.546,"s":"10000 rpm"},{"t":442.8,"v":0.518,"s":"10000 rpm"},{"t":444.8,"v":0.491,"s":"10000 rpm"},{"t":446.9,"v":0.463,"s":"10000 rpm"},{"t":449,"v":0.435,"s":"10000 rpm"},{"t":451,"v":0.417,"s":"10000 rpm"},{"t":453.1,"v":0.399,"s":"10000 rpm"},{"t":455.2,"v":0.435,"s":"10000 rpm"},{"t":456.2,"v":0.399,"s":"10000 rpm"},{"t":458.3,"v":0.491,"s":"10000 rpm"},{"t":459.9,"v":0.454,"s":"10000 rpm"},{"t":461.4,"v":0.472,"s":"10000 rpm"},{"t":463.4,"v":0.454,"s":"10000 rpm"},{"t":465.5,"v":0.491,"s":"10000 rpm"},{"t":466.9,"v":0.565,"s":"10000 rpm"},{"t":468.6,"v":0.638,"s":"10000 rpm"},{"t":470.7,"v":0.675,"s":"10000 rpm"},{"t":472.7,"v":0.749,"s":"10000 rpm"},{"t":474.8,"v":0.841,"s":"10000 rpm"},{"t":476.9,"v":0.869,"s":"10000 rpm"},{"t":480,"v":0.86,"s":"10000 rpm"},{"t":481.6,"v":0.731,"s":"10000 rpm"},{"t":483.1,"v":0.638,"s":"10000 rpm"},{"t":484.1,"v":0.675,"s":"10000 rpm"},{"t":485.1,"v":0.583,"s":"10000 rpm"},{"t":487.2,"v":0.528,"s":"10000 rpm"},{"t":489.3,"v":0.454,"s":"10000 rpm"},{"t":491.3,"v":0.38,"s":"10000 rpm"},{"t":493.4,"v":0.288,"s":"10000 rpm"},{"t":495.5,"v":0.214,"s":"10000 rpm"},{"t":497.5,"v":0.177,"s":"10000 rpm"},{"t":499.6,"v":0.159,"s":"10000 rpm"},{"t":501.7,"v":0.159,"s":"10000 rpm"},{"t":503.3,"v":0.214,"s":"10000 rpm"},{"t":504.1,"v":0.103,"s":"10000 rpm"},{"t":505.8,"v":0.048,"s":"10000 rpm"},{"t":507.4,"v":0.011,"s":"10000 rpm"},{"t":508.9,"v":0,"s":"10000 rpm"},{"t":515,"v":0.01,"s":"10000 rpm"},{"t":530,"v":0.01,"s":"10000 rpm"},{"t":545,"v":0,"s":"10000 rpm"}
]
},
"vconcat":[
{
"width":879,"height":257,
"data":{"name":"thrust"},
"mark":{"type":"line","strokeJoin":"round"},
"encoding":{
 "x":{"field":"t","type":"quantitative","scale":{"domain":[0,545],"nice":false,"zero":false},
  "axis":{"values":[0,20,40,60,80,100,120,140,160,180,200,220,240,260,280,300,320,340,360,380,400,420,440,460,480,500,520,540],"labels":false,"title":null,"tickSize":6,
   "gridOpacity":{"condition":{"test":"datum.value % 100 === 0","value":1},"value":0}}},
 "y":{"field":"v","type":"quantitative","scale":{"domain":[0,90],"nice":false},
  "axis":{"values":[0,5,10,15,20,25,30,35,40,45,50,55,60,65,70,75,80,85,90],"title":"Thrust Force (N)","tickSize":7,"labelPadding":15,"titlePadding":19,
   "labelExpr":"datum.value % 20 === 0 ? datum.label : ''",
   "gridOpacity":{"condition":{"test":"datum.value % 20 === 0","value":1},"value":0}}},
 "color":{"field":"s","type":"ordinal","scale":{"type":"ordinal","domain":["2500 rpm","5000 rpm","~a","~b","~c","~d","~e","~f","10000 rpm"],"range":["#333333","#000000","#000000","#000000","#000000","#000000","#000000","#000000","#000000"]},
  "legend":{"orient":"none","legendX":223,"legendY":-70,"direction":"horizontal","columns":3,"values":["2500 rpm","5000 rpm","10000 rpm"],"title":null,"labelFontSize":25,"labelColor":"black","symbolType":"stroke","symbolSize":576,"strokeColor":"black","padding":6,"columnPadding":14,"labelOffset":6}},
 "strokeWidth":{"field":"s","type":"ordinal","scale":{"type":"point","domain":["2500 rpm","5000 rpm","~a","~b","~c","~d","~e","~f","10000 rpm"],"range":[1,2.6]},
  "legend":{"orient":"none","legendX":223,"legendY":-70,"direction":"horizontal","columns":3,"values":["2500 rpm","5000 rpm","10000 rpm"],"title":null,"labelFontSize":25,"labelColor":"black","symbolType":"stroke","symbolSize":576,"strokeColor":"black","padding":6,"columnPadding":14,"labelOffset":6}}
}
},
{
"width":879,"height":271,
"data":{"name":"torque"},
"mark":{"type":"line","strokeJoin":"round"},
"encoding":{
 "x":{"field":"t","type":"quantitative","scale":{"domain":[0,545],"nice":false,"zero":false},
  "axis":{"values":[0,20,40,60,80,100,120,140,160,180,200,220,240,260,280,300,320,340,360,380,400,420,440,460,480,500,520,540],"title":"Time (s)","tickSize":6,"labelPadding":19,"titlePadding":4,"titleX":411,
   "labelExpr":"datum.value % 100 === 0 ? datum.label : ''",
   "gridOpacity":{"condition":{"test":"datum.value % 100 === 0","value":1},"value":0}}},
 "y":{"field":"v","type":"quantitative","scale":{"domain":[0,1.5],"nice":false},
  "axis":{"values":[0,0.1,0.2,0.3,0.4,0.5,0.6,0.7,0.8,0.9,1,1.1,1.2,1.3,1.4,1.5],"title":"Torque (N-m)","format":".1~f","tickSize":7,"labelPadding":15,"titlePadding":19,
   "labelExpr":"round(datum.value*10) % 3 === 0 ? datum.label : ''",
   "gridOpacity":{"condition":{"test":"round(datum.value*10) % 3 === 0","value":1},"value":0}}},
 "color":{"field":"s","type":"ordinal","scale":{"type":"ordinal","domain":["2500 rpm","5000 rpm","~a","~b","~c","~d","~e","~f","10000 rpm"],"range":["#333333","#000000","#000000","#000000","#000000","#000000","#000000","#000000","#000000"]}},
 "strokeWidth":{"field":"s","type":"ordinal","scale":{"type":"point","domain":["2500 rpm","5000 rpm","~a","~b","~c","~d","~e","~f","10000 rpm"],"range":[1,2.6]}}
}
}
]
}
